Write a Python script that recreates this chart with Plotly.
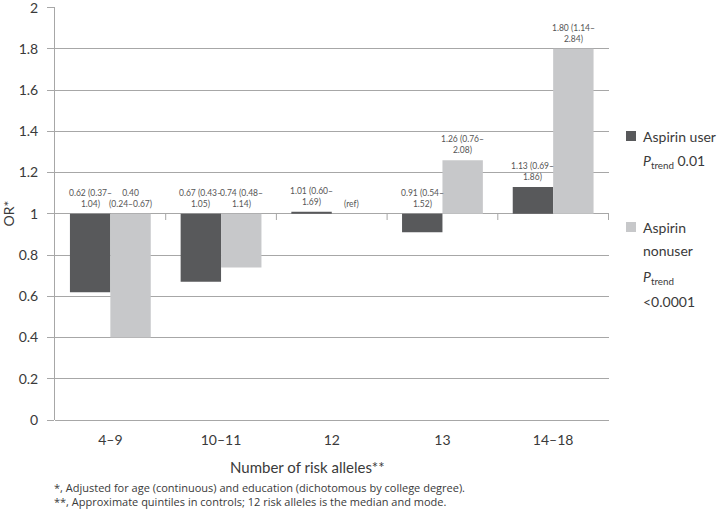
import plotly.graph_objects as go

# ---- data ----
categories = ["4–9", "10–11", "12", "13", "14–18"]
user_or = [0.62, 0.67, 1.01, 0.91, 1.13]
user_lo = [0.37, 0.43, 0.60, 0.54, 0.69]
user_hi = [1.04, 1.05, 1.69, 1.52, 1.86]
nonuser_or = [0.40, 0.74, 1.00, 1.26, 1.80]
nonuser_lo = [0.24, 0.48, None, 0.76, 1.14]
nonuser_hi = [0.67, 1.14, None, 2.08, 2.84]
y_ticks = [0, 0.2, 0.4, 0.6, 0.8, 1, 1.2, 1.4, 1.6, 1.8, 2]
footnotes = [
    "*, Adjusted for age (continuous) and education (dichotomous by college degree).",
    "**, Approximate quintiles in controls; 12 risk alleles is the median and mode.",
]

DARK = "#58595b"
LIGHT = "#c7c8ca"
GRID = "#a7a7a7"
TXT = "#3a3a3a"
FONT = "Lato"
FONT2 = "Open Sans"
BASE = 1.0
BARGAP = 0.27

W, H = 719, 510
L, R, T, B = 55, 110, 7, 90
PW, PH = W - L - R, H - T - B


def px_x(px):
    return (px - L) / PW


def px_y(py):
    return (H - B - py) / PH


fig = go.Figure()
fig.add_trace(go.Bar(name="Aspirin user", x=categories, y=[v - BASE for v in user_or],
                     base=BASE, marker=dict(color=DARK, line=dict(width=0)), showlegend=False))
fig.add_trace(go.Bar(name="Aspirin nonuser", x=categories, y=[v - BASE for v in nonuser_or],
                     base=BASE, marker=dict(color=LIGHT, line=dict(width=0)), showlegend=False))


def label(v, lo, hi, wrap_after_value=False):
    if lo is None:
        return "(ref)"
    if wrap_after_value:
        return f"{v:.2f}<br>({lo:.2f}–{hi:.2f})"
    return f"{v:.2f} ({lo:.2f}–<br>{hi:.2f})"


half = (1 - BARGAP) / 4
annotations = []
for i in range(len(categories)):
    for vals, los, his, off in ((user_or, user_lo, user_hi, -half), (nonuser_or, nonuser_lo, nonuser_hi, half)):
        v = vals[i]
        annotations.append(dict(
            x=i + off, y=max(v, BASE), xref="x", yref="y",
            text=label(v, los[i], his[i], wrap_after_value=(vals is nonuser_or and i == 0)),
            showarrow=False, xanchor="center", yanchor="bottom", yshift=3,
            font=dict(family=FONT, size=8.5, color="#555555")))

# axis title & footnotes
annotations.append(dict(x=px_x(307), y=px_y(467), xref="paper", yref="paper",
                        xanchor="center", yanchor="middle",
                        text="Number of risk alleles**", showarrow=False,
                        font=dict(family=FONT, size=15, color=TXT)))
annotations.append(dict(x=px_x(52), y=px_y(495), xref="paper", yref="paper",
                        xanchor="left", yanchor="middle", align="left",
                        text="<br>".join(footnotes),
                        showarrow=False, font=dict(family=FONT2, size=11, color=TXT)))

# manual legend
leg_lines = [
    (136, "Aspirin user"),
    (161, "<i>P</i><sub>trend</sub> 0.01"),
    (227, "Aspirin"),
    (251, "nonuser"),
    (277, "<i>P</i><sub>trend</sub>"),
    (301, "<0.0001"),
]
for py, t in leg_lines:
    annotations.append(dict(x=px_x(641), y=px_y(py), xref="paper", yref="paper",
                            xanchor="left", yanchor="middle",
                            text=t, showarrow=False, font=dict(family=FONT, size=14, color=TXT)))

shapes = [
    dict(type="rect", xref="paper", yref="paper", x0=px_x(626), x1=px_x(636), y0=px_y(131), y1=px_y(141),
         fillcolor=DARK, line=dict(width=0)),
    dict(type="rect", xref="paper", yref="paper", x0=px_x(626), x1=px_x(636), y0=px_y(222), y1=px_y(232),
         fillcolor=LIGHT, line=dict(width=0)),
    # hide gridline at the base value (category axis crosses there)
    dict(type="line", xref="paper", yref="y", x0=0.002, x1=1, y0=BASE, y1=BASE,
         line=dict(color="white", width=2), layer="below"),
]
# category-axis tick marks at the crossing value
for i in range(len(categories)):
    shapes.append(dict(type="line", xref="x", yref="y", x0=i + 0.5, x1=i + 0.5,
                       y0=BASE, y1=BASE - 0.03, line=dict(color=GRID, width=1)))

fig.update_layout(
    width=W, height=H,
    margin=dict(l=L, r=R, t=T, b=B, autoexpand=False),
    paper_bgcolor="white", plot_bgcolor="white",
    barmode="group", bargap=BARGAP, bargroupgap=0,
    font=dict(family=FONT, color=TXT),
    annotations=annotations, shapes=shapes,
    showlegend=False,
)
fig.update_yaxes(range=[0, 2.003], tickvals=y_ticks, ticktext=[f"{t:g}" for t in y_ticks],
                 automargin=False,
                 showgrid=True, gridcolor=GRID, gridwidth=1,
                 zeroline=True, zerolinecolor=GRID, zerolinewidth=1,
                 showline=True, linecolor=GRID, linewidth=1,
                 ticks="outside", ticklen=7, tickcolor=GRID, ticklabelstandoff=6,
                 ticklabeloverflow="allow",
                 tickfont=dict(family=FONT, size=14, color=TXT),
                 title=dict(text="OR*", standoff=14, font=dict(family=FONT, size=14, color=TXT)))
fig.update_xaxes(showgrid=False, showline=False, ticks="", ticklabelstandoff=10,
                 automargin=False,
                 tickfont=dict(family=FONT, size=14, color=TXT))

fig.write_html("out.html", post_script="document.body.style.margin='0';",
               config={"displayModeBar": False})
